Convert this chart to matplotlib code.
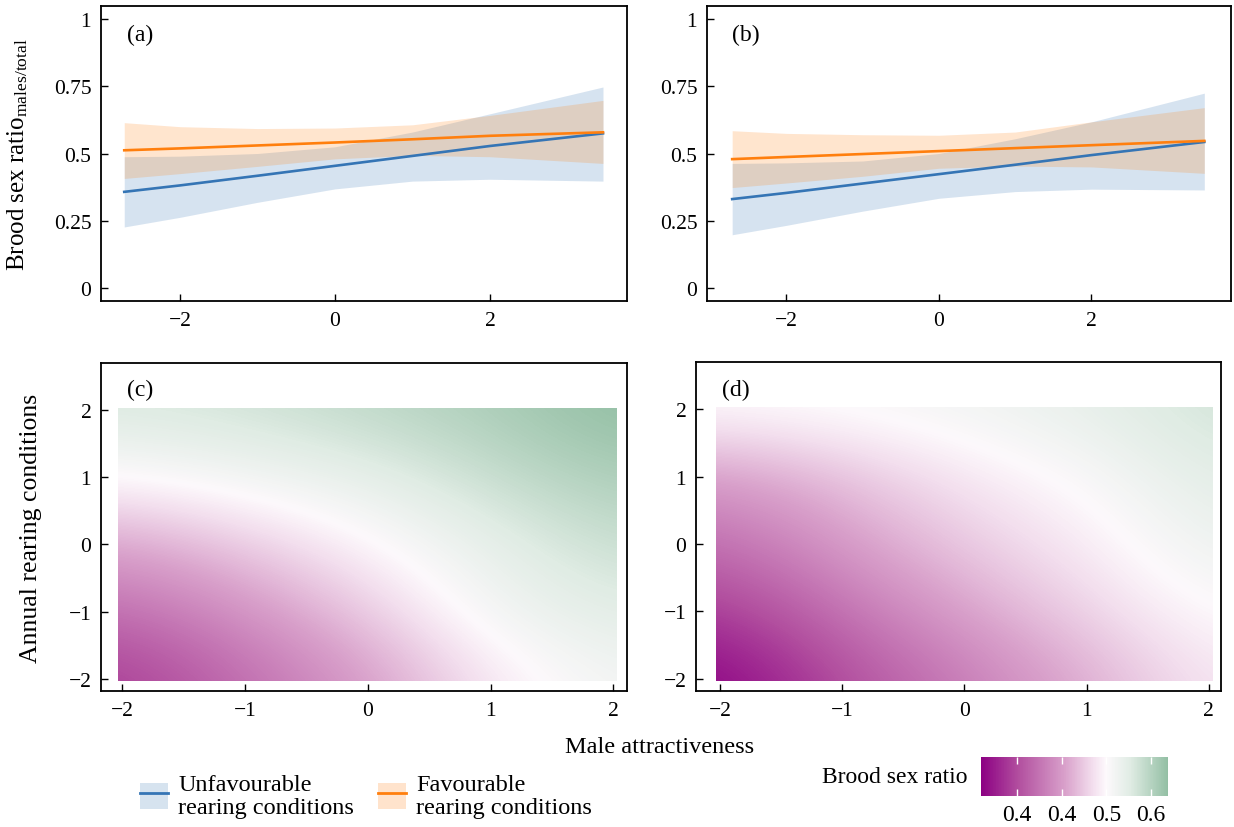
import numpy as np
import matplotlib
matplotlib.use("Agg")
import matplotlib.pyplot as plt
from matplotlib.colors import LinearSegmentedColormap, Normalize
from matplotlib.patches import Patch, Rectangle
from matplotlib.lines import Line2D

plt.rcParams['font.family'] = ['Liberation Serif', 'DejaVu Serif']
plt.rcParams['mathtext.fontset'] = 'custom'
plt.rcParams['mathtext.rm'] = 'Liberation Serif'
plt.rcParams['mathtext.it'] = 'Liberation Serif:italic'

# panel (a): brood sex ratio vs male attractiveness
xa = [-2.72, -2, -1, 0, 1, 2, 3.46]
a_unfav = [0.357, 0.381, 0.417, 0.454, 0.491, 0.528, 0.575]
a_unfav_lo = [0.226, 0.262, 0.318, 0.368, 0.397, 0.404, 0.397]
a_unfav_hi = [0.488, 0.490, 0.500, 0.525, 0.580, 0.648, 0.748]
a_fav = [0.512, 0.519, 0.530, 0.541, 0.553, 0.566, 0.579]
a_fav_lo = [0.407, 0.425, 0.452, 0.480, 0.493, 0.488, 0.463]
a_fav_hi = [0.615, 0.600, 0.593, 0.595, 0.607, 0.642, 0.698]

# panel (b)
xb = [-2.71, -2, -1, 0, 1, 2, 3.48]
b_unfav = [0.330, 0.353, 0.388, 0.423, 0.458, 0.494, 0.543]
b_unfav_lo = [0.197, 0.232, 0.285, 0.333, 0.358, 0.367, 0.364]
b_unfav_hi = [0.463, 0.465, 0.472, 0.500, 0.555, 0.618, 0.725]
b_fav = [0.479, 0.487, 0.498, 0.509, 0.520, 0.531, 0.547]
b_fav_lo = [0.373, 0.390, 0.415, 0.445, 0.453, 0.450, 0.426]
b_fav_hi = [0.585, 0.575, 0.570, 0.568, 0.580, 0.618, 0.671]

# panels (c) and (d): predicted sex ratio on a grid
# rows: annual rearing conditions -2..2, columns: male attractiveness -2..2
grid_x = [-2, -1, 0, 1, 2]
grid_y = [-2, -1, 0, 1, 2]
c_ratio = [
    [0.390, 0.420, 0.450, 0.490, 0.510],
    [0.420, 0.445, 0.475, 0.510, 0.525],
    [0.455, 0.475, 0.497, 0.520, 0.540],
    [0.500, 0.510, 0.520, 0.540, 0.555],
    [0.530, 0.535, 0.545, 0.555, 0.570],
]
d_ratio = [
    [0.360, 0.400, 0.430, 0.460, 0.490],
    [0.390, 0.425, 0.455, 0.480, 0.502],
    [0.420, 0.450, 0.475, 0.492, 0.515],
    [0.450, 0.470, 0.490, 0.503, 0.525],
    [0.502, 0.505, 0.510, 0.520, 0.535],
]

cbar_ticks = [0.40, 0.45, 0.50, 0.55]
cbar_labels = ['0.4', '0.4', '0.5', '0.6']

blue = '#3575B5'
orange = '#FF7F0E'
blue_fill = '#D6E3EF'
orange_fill = '#FFE3CC'

cmap = LinearSegmentedColormap.from_list('sexratio', [
    (0.00, '#8C0083'),
    (0.20, '#B24F9F'),
    (0.45, '#D9A1CB'),
    (0.60, '#F3DFEE'),
    (0.67, '#FDF9FC'),
    (0.80, '#E0ECE4'),
    (1.00, '#93BFA4'),
])
norm = Normalize(0.36, 0.569)

fig = plt.figure(figsize=(12.34, 8.28), dpi=100)
W, H = 1234, 828


def box(l, t, r, b):
    return [l / W, 1 - b / H, (r - l) / W, (b - t) / H]


def style(ax):
    for s in ax.spines.values():
        s.set_linewidth(1.3)
    ax.tick_params(direction='in', length=5, width=1, labelsize=15.5, pad=7)


ax_a = fig.add_axes(box(101, 7, 627, 302))
ax_b = fig.add_axes(box(707, 7, 1231, 302))
ax_c = fig.add_axes(box(101, 364, 627, 692))
ax_d = fig.add_axes(box(696, 363, 1221, 692))

for ax, x, u, ulo, uhi, f, flo, fhi, lab, xl in [
    (ax_a, xa, a_unfav, a_unfav_lo, a_unfav_hi, a_fav, a_fav_lo, a_fav_hi, '(a)', (-3.02, 3.77)),
    (ax_b, xb, b_unfav, b_unfav_lo, b_unfav_hi, b_fav, b_fav_lo, b_fav_hi, '(b)', (-3.04, 3.83)),
]:
    ax.fill_between(x, ulo, uhi, color=blue, alpha=0.2, lw=0)
    ax.fill_between(x, flo, fhi, color=orange, alpha=0.2, lw=0)
    ax.plot(x, u, color=blue, lw=1.9)
    ax.plot(x, f, color=orange, lw=1.9)
    ax.set_xlim(*xl)
    ax.set_ylim(-0.05, 1.05)
    ax.set_xticks([-2, 0, 2])
    ax.set_xticklabels(['\u22122', '0', '2'])
    ax.set_yticks([0, 0.25, 0.5, 0.75, 1])
    ax.set_yticklabels(['0', '0.25', '0.5', '0.75', '1'])
    ax.text(xl[0] + 0.33, 0.944, lab, fontsize=17, va='center', ha='left')
    style(ax)

ax_a.set_ylabel('Brood sex ratio$_{\\mathrm{males/total}}$', fontsize=18)
ax_a.yaxis.set_label_coords(-0.135, 0.5)

for ax, z, lab, xl in [(ax_c, c_ratio, '(c)', (-2.17, 2.11)), (ax_d, d_ratio, '(d)', (-2.196, 2.10))]:
    im = ax.imshow(np.array(z), origin='lower', extent=(-2.5, 2.5, -2.5, 2.5),
                   interpolation='bicubic', cmap=cmap, norm=norm, aspect='auto')
    im.set_clip_path(Rectangle((-2.03, -2.03), 4.06, 4.06, transform=ax.transData))
    ax.set_xlim(*xl)
    ax.set_ylim(-2.18, 2.70)
    ax.set_xticks(grid_x)
    ax.set_xticklabels(['\u22122', '\u22121', '0', '1', '2'])
    ax.set_yticks(grid_y)
    ax.set_yticklabels(['\u22122', '\u22121', '0', '1', '2'])
    ax.text(xl[0] + 0.21, 2.30, lab, fontsize=17, va='center', ha='left')
    style(ax)

ax_c.set_ylabel('Annual rearing conditions', fontsize=18.5)
ax_c.yaxis.set_label_coords(-0.112, 0.5)

fig.text(660 / W, 1 - 748 / H, 'Male attractiveness', fontsize=17.5, ha='center', va='center')

handles = [
    (Patch(facecolor=blue_fill, edgecolor='none'), Line2D([], [], color=blue, lw=2)),
    (Patch(facecolor=orange_fill, edgecolor='none'), Line2D([], [], color=orange, lw=2)),
]
leg = fig.legend(handles, ['Unfavourable\nrearing conditions', 'Favourable\nrearing conditions'],
                 loc='center left', bbox_to_anchor=(140 / W, 1 - 797 / H), ncol=2, frameon=False,
                 fontsize=17.5, handlelength=1.15, handleheight=1.25, handletextpad=0.42,
                 columnspacing=1.0, borderpad=0, borderaxespad=0)
for t in leg.get_texts():
    t.set_linespacing(1.1)

cax = fig.add_axes(box(981, 758, 1168, 797))
cb = fig.colorbar(im, cax=cax, orientation='horizontal')
cb.set_ticks(cbar_ticks)
cb.set_ticklabels(cbar_labels)
cb.outline.set_visible(False)
cax.tick_params(direction='in', color='white', length=5, width=1, labelsize=17,
                top=True, bottom=True, pad=6)
fig.text(968 / W, 1 - 778 / H, 'Brood sex ratio', fontsize=17, ha='right', va='center')

fig.savefig('out.png', dpi=100)
